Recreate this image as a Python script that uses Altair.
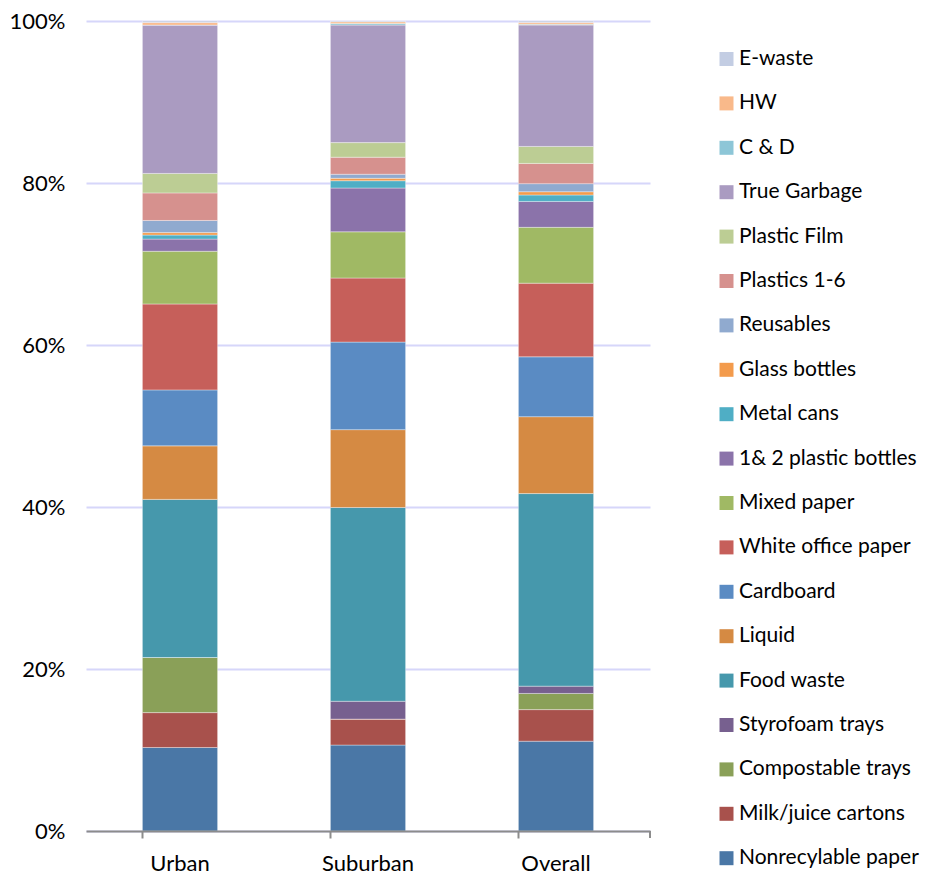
import altair as alt
import pandas as pd

categories = ["Urban", "Suburban", "Overall"]
series = ["Nonrecylable paper", "Milk/juice cartons", "Compostable trays", "Styrofoam trays",
          "Food waste", "Liquid", "Cardboard", "White office paper", "Mixed paper",
          "1& 2 plastic bottles", "Metal cans", "Glass bottles", "Reusables", "Plastics 1-6",
          "Plastic Film", "True Garbage", "C & D", "HW", "E-waste"]
colors = ["#4A77A6", "#A8514C", "#8AA058", "#77608F", "#4698AC", "#D58A43", "#5A8BC3",
          "#C65F5A", "#A0B964", "#8B73AA", "#4FAEC5", "#F39B4C", "#90AACF", "#D6918E",
          "#BCCD94", "#AA9BC1", "#8DC6D7", "#F9B98A", "#C3CDE3"]
urban = [10.3, 4.3, 6.8, 0.0, 19.5, 6.6, 6.9, 10.6, 6.5, 1.5, 0.5, 0.3, 1.5, 3.4, 2.4, 18.3, 0.0, 0.3, 0.2]
suburban = [10.6, 3.2, 0.0, 2.2, 23.9, 9.6, 10.8, 7.9, 5.7, 5.4, 0.9, 0.3, 0.5, 2.1, 1.8, 14.5, 0.2, 0.2, 0.1]
overall = [11.1, 3.9, 2.0, 0.9, 23.8, 9.5, 7.4, 9.1, 6.9, 3.2, 0.8, 0.4, 1.0, 2.5, 2.1, 15.0, 0.1, 0.2, 0.2]

rows = []
for cat, vals in zip(categories, [urban, suburban, overall]):
    for i, (s, v) in enumerate(zip(series, vals)):
        rows.append({"area": cat, "material": s, "value": v, "idx": i})
df = pd.DataFrame(rows)

FONT = "Lato"
FS = 22

bars = alt.Chart(df).mark_bar(stroke="#ffffff", strokeWidth=0.6, strokeOpacity=0.6).encode(
    x=alt.X("area:N", sort=categories, title=None,
            scale=alt.Scale(paddingInner=0.6, paddingOuter=0.3),
            axis=alt.Axis(labelAngle=0, labelFontSize=FS, labelFont=FONT, labelColor="#000000",
                          domainColor="#8c8c8c", domainWidth=2, tickColor="#8c8c8c", tickWidth=2,
                          tickSize=7, bandPosition=0, labelPadding=15, grid=False, zindex=1)),
    y=alt.Y("value:Q", stack="normalize", title=None,
            scale=alt.Scale(domain=[0, 1]),
            axis=alt.Axis(format=".0%", values=[0, 0.2, 0.4, 0.6, 0.8, 1.0], labelFontSize=FS,
                          labelFont=FONT, labelColor="#000000", domain=False, ticks=False,
                          labelPadding=21, gridColor="#D6D6FA", gridWidth=2)),
    color=alt.Color("material:N",
                    scale=alt.Scale(domain=series[::-1], range=colors[::-1]),
                    legend=alt.Legend(title=None, orient="none", legendX=630, legendY=27.5,
                                      labelFontSize=21, labelFont=FONT, labelColor="#000000",
                                      symbolType="square", symbolSize=196, symbolStrokeWidth=0,
                                      rowPadding=22.4, labelOffset=2, labelLimit=300)),
    order=alt.Order("idx:Q", sort="ascending"),
)

end_tick = alt.Chart(df).mark_rule(color="#8c8c8c", strokeWidth=2).encode(
    x=alt.value(564), y=alt.value(810), y2=alt.value(817)
)

chart = alt.layer(bars, end_tick).properties(
    width=564, height=810,
    background="#ffffff",
    autosize=alt.AutoSizeParams(type="none"),
    padding={"left": 78, "top": 13, "right": 276, "bottom": 45},
).configure_view(stroke=None)

chart.save("out.html", embed_options={"renderer": "svg", "actions": False})
